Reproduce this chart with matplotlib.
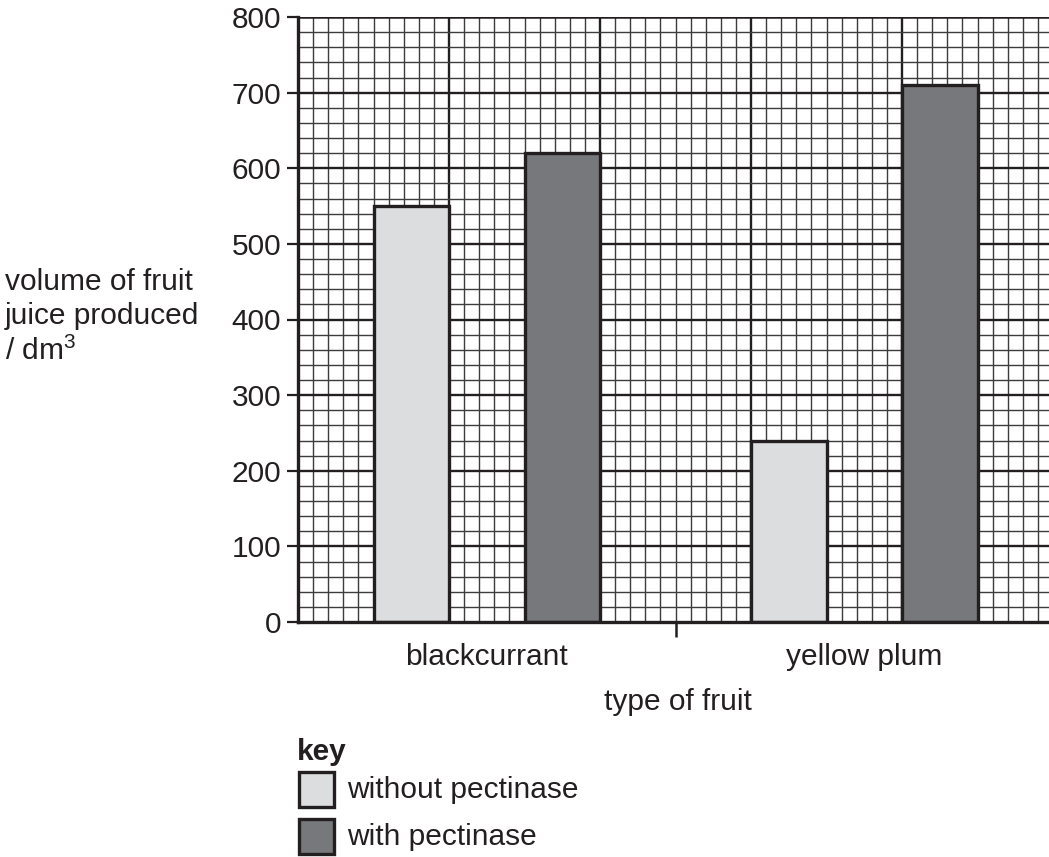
import numpy as np
import matplotlib
matplotlib.use("Agg")
import matplotlib.pyplot as plt
from matplotlib.patches import Rectangle

plt.rcParams['font.family'] = ['Liberation Sans', 'DejaVu Sans']
plt.rcParams['mathtext.fontset'] = 'custom'
plt.rcParams['mathtext.rm'] = 'Liberation Sans'
plt.rcParams['text.color'] = '#231f20'

fruits = ["blackcurrant", "yellow plum"]
without_pectinase = [550, 240]
with_pectinase = [620, 710]
series_names = ["without pectinase", "with pectinase"]
yticks = [0, 100, 200, 300, 400, 500, 600, 700, 800]

INK = '#231f20'
LIGHT = '#dcdddf'
DARK = '#77787b'
FS = 21.5

W, H = 1049, 857
fig = plt.figure(figsize=(W / 100, H / 100), dpi=100)


def fx(px):
    return px / W


def fy(py):
    return 1 - py / H


# axis runs past the right edge of the page, like the scanned graph paper
x0, x1, y0, y1 = 298, 1049, 622, 17
ax = fig.add_axes([fx(x0), fy(y0), fx(x1) - fx(x0), fy(y1) - fy(y0)])
xmax = (x1 - x0) / 15.1
ax.set_xlim(0, xmax)
ax.set_ylim(0, 800)

# graph paper
for v in np.arange(1, xmax, 1):
    major = int(round(v)) % 10 == 0
    ax.axvline(v, color=INK if major else '#3c3c3c',
               lw=1.7 if major else 1.0, zorder=1)
for v in np.arange(20, 800, 20):
    major = int(round(v)) % 100 == 0
    ax.axhline(v, color=INK if major else '#3c3c3c',
               lw=1.7 if major else 1.0, zorder=1)
ax.axhline(800, color=INK, lw=1.8, zorder=1)

# bars, one group of two per fruit (5 squares wide each)
centers = np.array([12.5, 37.5])
ax.bar(centers - 5, without_pectinase, width=5, color=LIGHT,
       edgecolor=INK, linewidth=2.4, zorder=3)
ax.bar(centers + 5, with_pectinase, width=5, color=DARK,
       edgecolor=INK, linewidth=2.4, zorder=3)

for s in ['top', 'right']:
    ax.spines[s].set_visible(False)
for s in ['left', 'bottom']:
    ax.spines[s].set_linewidth(2.4)
    ax.spines[s].set_color(INK)
    ax.spines[s].set_zorder(4)

ax.set_yticks(yticks)
ax.set_yticklabels([str(t) for t in yticks])
ax.tick_params(axis='y', length=8, width=1.6, color=INK, pad=4,
               labelsize=FS, labelcolor=INK)
ax.set_xticks(centers)
ax.set_xticklabels(fruits)
ax.tick_params(axis='x', length=0, pad=15, labelsize=FS, labelcolor=INK)
ax.set_xticks([25], minor=True)
ax.tick_params(axis='x', which='minor', length=11, width=1.8, color=INK)

# texts outside the axes
fig.text(fx(5), fy(317), "volume of fruit\njuice produced\n/ dm$^3$",
         ha='left', va='center', fontsize=FS, linespacing=1.25)
fig.text(fx(678), fy(702), "type of fruit", ha='center', va='center',
         fontsize=FS)
fig.text(fx(297), fy(752), "key", ha='left', va='center', fontsize=FS,
         fontweight='bold')

# key
for i, (name, col) in enumerate(zip(series_names, [LIGHT, DARK])):
    top = 772 + i * 47
    fig.patches.append(Rectangle((fx(299), fy(top + 35)), fx(35), 35 / H,
                                 transform=fig.transFigure, facecolor=col,
                                 edgecolor=INK, linewidth=2.4))
    fig.text(fx(347), fy(top + 18), name, ha='left', va='center',
             fontsize=FS)

fig.savefig("out.png", dpi=100)
